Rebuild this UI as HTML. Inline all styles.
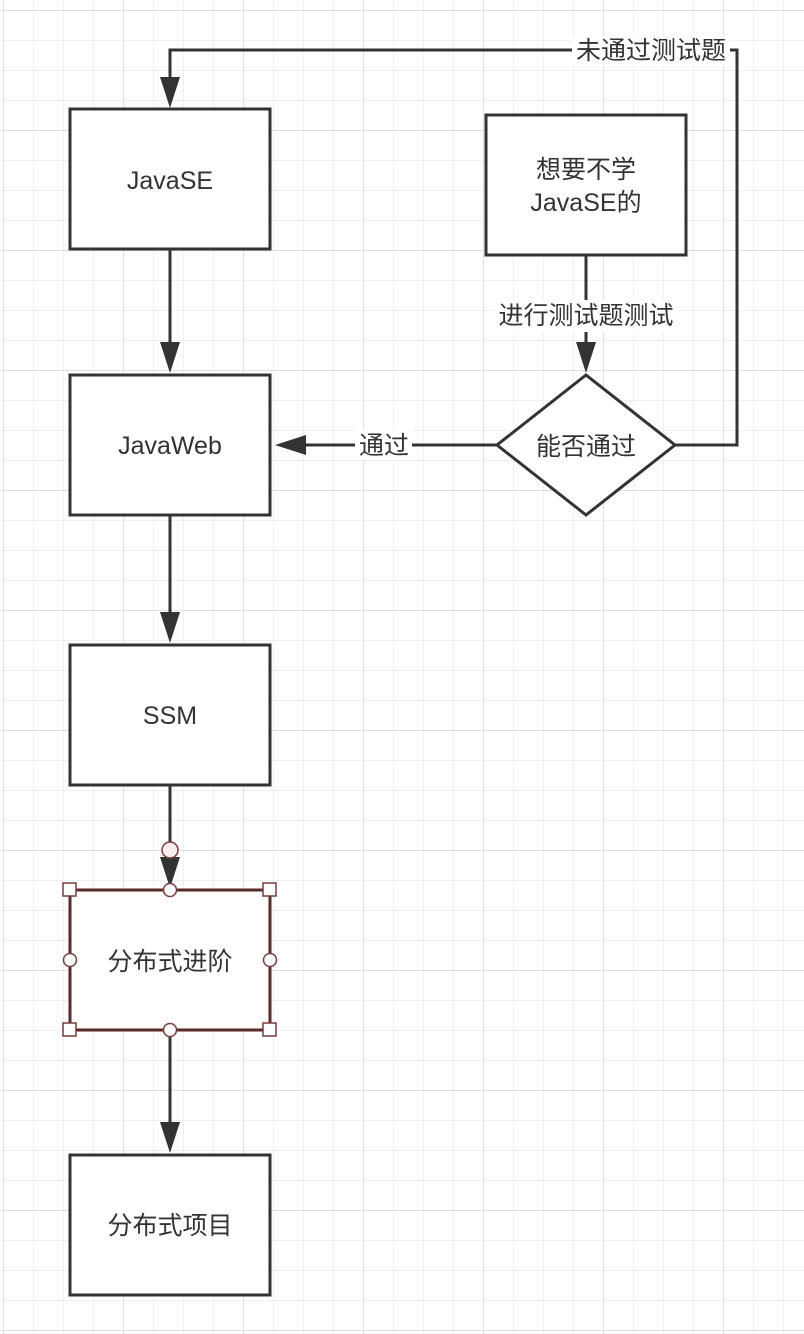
<!DOCTYPE html>
<html><head><meta charset="utf-8"><style>
html,body{margin:0;padding:0;background:#fff}
svg{display:block}
text{font-family:"Liberation Sans","Noto Sans CJK SC",sans-serif;fill:#333;font-size:25px;text-anchor:middle;dominant-baseline:central}
</style></head><body>
<svg width="804" height="1334" viewBox="0 0 804 1334" xmlns="http://www.w3.org/2000/svg">
<defs>
<pattern id="g" x="3" y="10" width="30" height="30" patternUnits="userSpaceOnUse">
<path d="M0 0H30M0 0V30" stroke="#ebebeb" stroke-width="1.5" fill="none"/>
</pattern>
<pattern id="G" x="3" y="10" width="120" height="120" patternUnits="userSpaceOnUse">
<path d="M0 0H120M0 0V120" stroke="#e0e0e0" stroke-width="2" fill="none"/>
</pattern>
</defs>
<rect width="804" height="1334" fill="url(#g)"/>
<rect width="804" height="1334" fill="url(#G)"/>
<g stroke="#333" stroke-width="3" fill="none">
<path d="M675 445H737V50H170V90"/>
<path d="M170 249V355"/>
<path d="M170 516V625"/>
<path d="M170 786V870"/>
<path d="M170 1031V1135"/>
<path d="M586 256V355"/>
<path d="M497 445H300"/>
</g>
<g fill="#333">
<path d="M160 77L180 77L170 108Z"/>
<path d="M160 342L180 342L170 373Z"/>
<path d="M160 612L180 612L170 643Z"/>
<path d="M160 857L180 857L170 888Z"/>
<path d="M160 1122L180 1122L170 1153Z"/>
<path d="M576 342L596 342L586 373Z"/>
<path d="M306 435L306 455L275 445Z"/>
</g>
<g stroke="#333" stroke-width="3" fill="#fff">
<rect x="70" y="109" width="200" height="140"/>
<rect x="70" y="375" width="200" height="140"/>
<rect x="70" y="645" width="200" height="140"/>
<rect x="70" y="1155" width="200" height="140"/>
<rect x="486" y="115" width="200" height="140"/>
<path d="M586 375L675 445L586 515L497 445Z"/>
</g>
<rect x="70" y="890" width="200" height="140" fill="#fff" stroke="#5a2a2a" stroke-width="3"/>
<g fill="#fff" stroke="#7a3a3a" stroke-width="1.5">
<circle cx="170" cy="850" r="8" fill="#fbeeee"/>
<rect x="63" y="883" width="13" height="13"/><rect x="263" y="883" width="13" height="13"/>
<rect x="63" y="1023" width="13" height="13"/><rect x="263" y="1023" width="13" height="13"/>
<circle cx="170" cy="890" r="6.5"/><circle cx="170" cy="1030" r="6.5"/>
<circle cx="70" cy="960" r="6.5"/><circle cx="270" cy="960" r="6.5"/>
</g>
<rect x="572" y="36" width="158" height="30" fill="#fff"/>
<rect x="494" y="300" width="184" height="32" fill="#fff"/>
<rect x="355" y="430" width="57" height="30" fill="#fff"/>
<text x="170" y="181">JavaSE</text>
<text x="170" y="446">JavaWeb</text>
<text x="170" y="716">SSM</text>
<text x="170" y="962">分布式进阶</text>
<text x="170" y="1226">分布式项目</text>
<text x="586" y="170">想要不学</text>
<text x="586" y="203">JavaSE的</text>
<text x="586" y="447">能否通过</text>
<text x="651" y="51">未通过测试题</text>
<text x="586" y="316">进行测试题测试</text>
<text x="384" y="446">通过</text>
</svg>
</body></html>
